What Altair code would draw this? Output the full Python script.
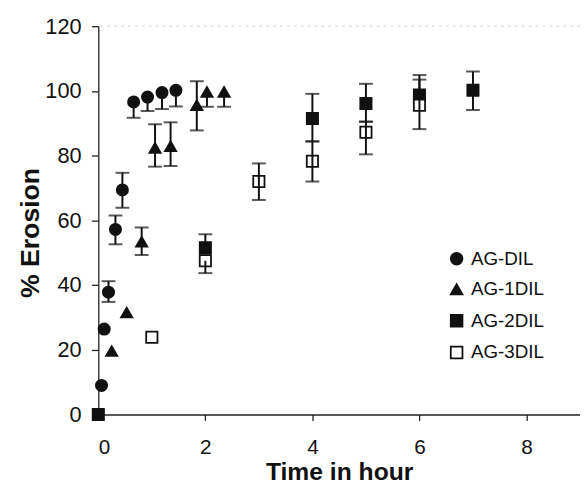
import altair as alt
import pandas as pd

series_names = ["AG-DIL", "AG-1DIL", "AG-2DIL", "AG-3DIL"]
series_shapes = ["circle", "triangle-up", "square", "square"]
series_fills = ["#111111", "#111111", "#111111", "#ffffff"]
series_strokes = ["#111111", "#111111", "#111111", "#111111"]

dil_x = [0.06, 0.11, 0.19, 0.32, 0.45, 0.66, 0.92, 1.19, 1.45]
dil_y = [9.0, 26.4, 37.8, 57.2, 69.4, 96.6, 98.1, 99.5, 100.2]
dil_lo = [None, None, 34.8, 52.6, 63.9, 91.7, 93.8, 94.4, 95.2]
dil_hi = [None, None, 41.2, 61.5, 74.7, None, None, None, None]

dil1_x = [0.25, 0.53, 0.81, 1.06, 1.35, 1.84, 2.03, 2.35]
dil1_y = [19.6, 31.5, 53.4, 82.4, 82.9, 95.6, 99.7, 99.7]
dil1_lo = [None, None, 49.3, 76.6, 76.8, 87.8, 95.1, 95.1]
dil1_hi = [None, None, 57.8, 89.7, 90.3, 103.0, None, None]

dil2_x = [0, 2, 4, 5, 6, 7]
dil2_y = [0, 51.5, 91.5, 96.1, 98.7, 100.2]
dil2_lo = [None, None, 84.4, 90.5, None, 94.1]
dil2_hi = [None, 55.7, 99.1, 102.2, 104.9, 106.0]

dil3_x = [1, 2, 3, 4, 5, 6]
dil3_y = [23.9, 47.5, 72.0, 78.3, 87.2, 95.6]
dil3_lo = [None, 43.7, 66.3, 72.0, 80.4, 88.2]
dil3_hi = [None, None, 77.6, 84.4, 90.5, 103.5]

x_ticks = [0, 2, 4, 6, 8]
y_ticks = [0, 20, 40, 60, 80, 100, 120]
top_line_y = [120]

all_series = [
    (series_names[0], dil_x, dil_y, dil_lo, dil_hi),
    (series_names[1], dil1_x, dil1_y, dil1_lo, dil1_hi),
    (series_names[2], dil2_x, dil2_y, dil2_lo, dil2_hi),
    (series_names[3], dil3_x, dil3_y, dil3_lo, dil3_hi),
]

pts, bars, caps = [], [], []
for name, xs, ys, los, his in all_series:
    for x, y, lo, hi in zip(xs, ys, los, his):
        pts.append({"series": name, "x": x, "y": y})
        if lo is not None or hi is not None:
            bars.append({"x": x, "lo": lo if lo is not None else y,
                         "hi": hi if hi is not None else y})
        for c in (lo, hi):
            if c is not None:
                caps.append({"x": x, "y": c})

pts_df = pd.DataFrame(pts)
bars_df = pd.DataFrame(bars)
caps_df = pd.DataFrame(caps)
top_df = pd.DataFrame({"y": top_line_y})

FONT = "Liberation Sans"
INK = "#111111"

xscale = alt.Scale(domain=[0, 9], nice=False, zero=False)
yscale = alt.Scale(domain=[0, 120], nice=False)

legend = alt.Legend(
    title=None, orient="none", legendX=353.5, legendY=226, padding=0,
    symbolSize=140, symbolStrokeWidth=1.8, symbolStrokeColor=INK,
    labelFontSize=19, labelFont=FONT, labelColor=INK, labelOffset=5,
    rowPadding=11,
)

x_enc = alt.X(
    "x:Q", scale=xscale, title="Time in hour",
    axis=alt.Axis(values=x_ticks, tickSize=6, labelPadding=17, labelFontSize=21,
                  titleBaseline="alphabetic", titleY=65.8, titleFontSize=25,
                  format="d"),
)
y_enc = alt.Y(
    "y:Q", scale=yscale, title="% Erosion",
    axis=alt.Axis(values=y_ticks, tickSize=7, labelPadding=10.5,
                  titleBaseline="alphabetic", titleX=-61, titleY=209,
                  titleAngle=270, titleAlign="center", titleFontSize=27),
)

top_rule = alt.Chart(top_df).mark_rule(
    color="#d4d4d4", strokeWidth=1, strokeDash=[3, 4]
).encode(y=alt.Y("y:Q", scale=yscale))

points = alt.Chart(pts_df).mark_point(
    size=130, strokeWidth=1.8, opacity=1
).encode(
    x=x_enc,
    y=y_enc,
    shape=alt.Shape("series:N", scale=alt.Scale(domain=series_names, range=series_shapes), legend=legend),
    fill=alt.Fill("series:N", scale=alt.Scale(domain=series_names, range=series_fills), legend=legend),
    stroke=alt.Stroke("series:N", scale=alt.Scale(domain=series_names, range=series_strokes), legend=legend),
)

rules = alt.Chart(bars_df).mark_rule(color=INK, strokeWidth=2).encode(
    x=alt.X("x:Q", scale=xscale),
    y=alt.Y("lo:Q", scale=yscale),
    y2="hi:Q",
)

cap_ticks = alt.Chart(caps_df).mark_tick(
    color=INK, orient="horizontal", size=14, thickness=2
).encode(
    x=alt.X("x:Q", scale=xscale),
    y=alt.Y("y:Q", scale=yscale),
)

chart = alt.layer(top_rule, points, rules, cap_ticks).properties(
    width=488, height=393.4,
    autosize=alt.AutoSizeParams(type="none"),
    padding={"left": 91.5, "top": 15.3, "right": 0, "bottom": 71.3},
).configure_view(stroke=None).configure_axis(
    grid=False, domainColor="#222222", domainWidth=1.3, tickColor="#222222",
    tickWidth=1.3, labelFont=FONT, labelFontSize=22, labelColor=INK,
    titleFont=FONT, titleFontWeight="bold", titleColor=INK,
)

chart.save("out.html", embed_options={"renderer": "svg", "actions": False})
